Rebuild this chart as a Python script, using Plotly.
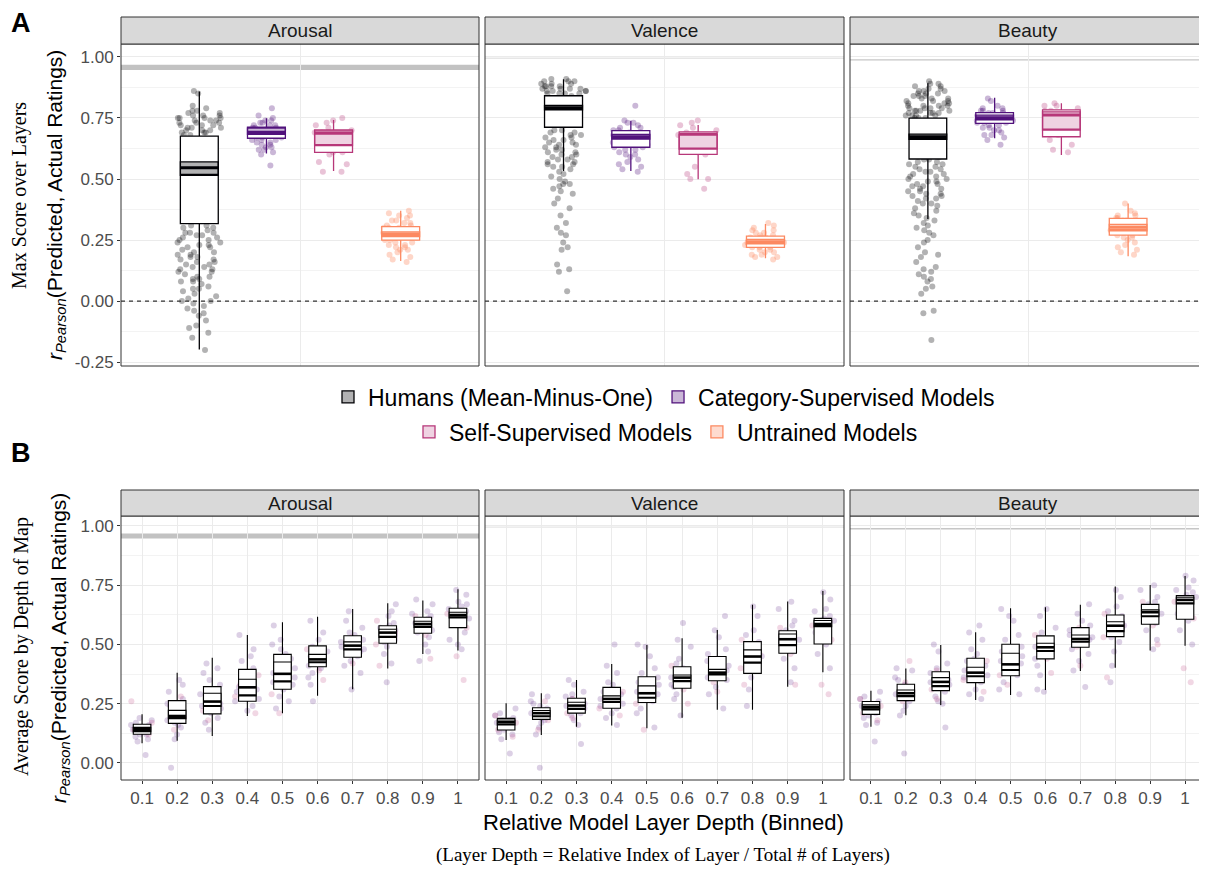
import plotly.graph_objects as go

# ---------------- data ----------------
measures = ["Arousal", "Valence", "Beauty"]
groups = ["Humans (Mean-Minus-One)", "Category-Supervised Models",
          "Self-Supervised Models", "Untrained Models"]
depth_labels = ["0.1", "0.2", "0.3", "0.4", "0.5", "0.6", "0.7", "0.8", "0.9", "1"]
y_ticks_A = [-0.25, 0.0, 0.25, 0.5, 0.75, 1.0]
y_ticks_B = [0.0, 0.25, 0.5, 0.75, 1.0]

# noise-ceiling bands (per measure)
ceiling_lo = [0.947, 0.992, 0.985]
ceiling_hi = [0.968, 0.998, 0.991]

# Panel A box statistics, order = groups
A_arousal_lo = [-0.198, 0.604, 0.533, 0.164]
A_arousal_q1 = [0.317, 0.667, 0.609, 0.250]
A_arousal_med = [0.546, 0.691, 0.687, 0.273]
A_arousal_q3 = [0.676, 0.712, 0.701, 0.305]
A_arousal_hi = [0.858, 0.749, 0.742, 0.370]
A_arousal_band_lo = [0.515, 0.683, 0.637, 0.264]
A_arousal_band_hi = [0.570, 0.708, 0.697, 0.283]

A_valence_lo = [0.533, 0.533, 0.499, 0.175]
A_valence_q1 = [0.712, 0.630, 0.601, 0.220]
A_valence_med = [0.792, 0.673, 0.683, 0.243]
A_valence_q3 = [0.841, 0.698, 0.693, 0.266]
A_valence_hi = [0.909, 0.739, 0.721, 0.316]
A_valence_band_lo = [0.783, 0.663, 0.622, 0.234]
A_valence_band_hi = [0.802, 0.683, 0.683, 0.253]

A_beauty_lo = [0.336, 0.667, 0.598, 0.184]
A_beauty_q1 = [0.582, 0.728, 0.673, 0.270]
A_beauty_med = [0.673, 0.751, 0.762, 0.302]
A_beauty_q3 = [0.749, 0.772, 0.783, 0.339]
A_beauty_hi = [0.892, 0.833, 0.810, 0.400]
A_beauty_band_lo = [0.662, 0.742, 0.700, 0.288]
A_beauty_band_hi = [0.684, 0.762, 0.775, 0.314]

# Panel A individual scores
A_arousal_humans = [0.86, 0.85, 0.80, 0.79, 0.78, 0.78, 0.77, 0.77, 0.76, 0.76, 0.76, 0.75, 0.75, 0.75, 0.75,
                    0.74, 0.74, 0.74, 0.73, 0.73, 0.73, 0.72, 0.72, 0.72, 0.71, 0.71, 0.71, 0.70, 0.70, 0.70,
                    0.69, 0.69, 0.69, 0.68, 0.68, 0.66, 0.64, 0.62, 0.60, 0.58, 0.56, 0.55, 0.54, 0.52, 0.50,
                    0.47, 0.44, 0.41, 0.38, 0.35, 0.33, 0.31, 0.31, 0.30, 0.30, 0.29, 0.28, 0.28, 0.28, 0.27,
                    0.27, 0.26, 0.26, 0.25, 0.25, 0.24, 0.24, 0.23, 0.23, 0.22, 0.22, 0.21, 0.20, 0.20, 0.19,
                    0.19, 0.18, 0.18, 0.17, 0.17, 0.16, 0.16, 0.15, 0.15, 0.14, 0.14, 0.13, 0.13, 0.12, 0.12,
                    0.11, 0.10, 0.10, 0.09, 0.09, 0.08, 0.08, 0.07, 0.06, 0.05, 0.05, 0.04, 0.03, 0.02, 0.01,
                    0.00, 0.00, -0.01, -0.02, -0.03, -0.04, -0.05, -0.06, -0.08, -0.10, -0.11, -0.13, -0.15, -0.20]
A_arousal_category = [0.79, 0.76, 0.75, 0.74, 0.74, 0.73, 0.73, 0.72, 0.72, 0.72, 0.71, 0.71, 0.71, 0.70, 0.70,
                      0.70, 0.69, 0.69, 0.69, 0.69, 0.68, 0.68, 0.68, 0.68, 0.67, 0.67, 0.67, 0.66, 0.66, 0.66,
                      0.65, 0.65, 0.64, 0.64, 0.63, 0.63, 0.62, 0.62, 0.61, 0.60, 0.555]
A_arousal_self = [0.75, 0.74, 0.73, 0.72, 0.71, 0.70, 0.69, 0.69, 0.68, 0.67, 0.66, 0.65, 0.63, 0.62, 0.61,
                  0.61, 0.60, 0.57, 0.56, 0.53, 0.53]
A_arousal_untrained = [0.37, 0.36, 0.35, 0.35, 0.34, 0.33, 0.33, 0.32, 0.32, 0.31, 0.31, 0.30, 0.30, 0.30, 0.29,
                       0.29, 0.29, 0.28, 0.28, 0.28, 0.27, 0.27, 0.27, 0.26, 0.26, 0.26, 0.25, 0.25, 0.24, 0.24,
                       0.23, 0.23, 0.22, 0.22, 0.21, 0.21, 0.20, 0.19, 0.18, 0.17, 0.16]

A_valence_humans = [0.91, 0.91, 0.90, 0.90, 0.90, 0.89, 0.89, 0.89, 0.88, 0.88, 0.88, 0.88, 0.87, 0.87, 0.87,
                    0.87, 0.86, 0.86, 0.86, 0.86, 0.85, 0.85, 0.85, 0.85, 0.84, 0.83, 0.81, 0.80, 0.79, 0.78,
                    0.76, 0.74, 0.72, 0.70, 0.70, 0.69, 0.69, 0.68, 0.68, 0.67, 0.67, 0.66, 0.66, 0.65, 0.65,
                    0.64, 0.64, 0.63, 0.63, 0.62, 0.62, 0.61, 0.61, 0.60, 0.60, 0.59, 0.59, 0.58, 0.58, 0.57,
                    0.57, 0.56, 0.56, 0.55, 0.55, 0.54, 0.53, 0.52, 0.51, 0.50, 0.49, 0.48, 0.48, 0.47, 0.46,
                    0.45, 0.44, 0.42, 0.40, 0.38, 0.35, 0.32, 0.30, 0.28, 0.27, 0.24, 0.22, 0.21, 0.15, 0.13,
                    0.12, 0.04]
A_valence_category = [0.80, 0.74, 0.73, 0.73, 0.72, 0.71, 0.71, 0.70, 0.70, 0.69, 0.69, 0.68, 0.68, 0.68, 0.67,
                      0.67, 0.67, 0.66, 0.66, 0.65, 0.65, 0.64, 0.64, 0.63, 0.63, 0.62, 0.62, 0.61, 0.60, 0.60,
                      0.59, 0.58, 0.57, 0.56, 0.55, 0.54, 0.53]
A_valence_self = [0.74, 0.73, 0.72, 0.71, 0.70, 0.69, 0.68, 0.68, 0.67, 0.66, 0.65, 0.64, 0.62, 0.61, 0.60,
                  0.55, 0.52, 0.50, 0.50, 0.46]
A_valence_untrained = [0.32, 0.31, 0.30, 0.29, 0.29, 0.28, 0.28, 0.27, 0.27, 0.26, 0.26, 0.26, 0.25, 0.25, 0.25,
                       0.24, 0.24, 0.24, 0.24, 0.23, 0.23, 0.23, 0.22, 0.22, 0.22, 0.21, 0.21, 0.20, 0.20, 0.19,
                       0.19, 0.18, 0.18, 0.17]

A_beauty_humans = [0.90, 0.89, 0.89, 0.88, 0.88, 0.87, 0.87, 0.86, 0.86, 0.86, 0.85, 0.85, 0.85, 0.84, 0.84,
                   0.84, 0.83, 0.83, 0.83, 0.82, 0.82, 0.82, 0.81, 0.81, 0.81, 0.80, 0.80, 0.80, 0.80, 0.79,
                   0.79, 0.79, 0.79, 0.78, 0.78, 0.78, 0.78, 0.77, 0.77, 0.77, 0.77, 0.76, 0.76, 0.76, 0.76,
                   0.75, 0.75, 0.75, 0.74, 0.72, 0.70, 0.68, 0.67, 0.66, 0.64, 0.62, 0.60, 0.59, 0.58, 0.58,
                   0.57, 0.57, 0.56, 0.56, 0.55, 0.55, 0.54, 0.54, 0.53, 0.53, 0.52, 0.52, 0.51, 0.51, 0.50,
                   0.50, 0.49, 0.49, 0.48, 0.48, 0.47, 0.47, 0.46, 0.46, 0.45, 0.45, 0.44, 0.44, 0.43, 0.43,
                   0.42, 0.42, 0.41, 0.40, 0.40, 0.39, 0.38, 0.37, 0.36, 0.35, 0.34, 0.33, 0.32, 0.31, 0.30,
                   0.29, 0.28, 0.27, 0.25, 0.24, 0.22, 0.20, 0.19, 0.18, 0.16, 0.14, 0.13, 0.12, 0.11, 0.10,
                   0.09, 0.08, 0.06, 0.05, 0.03, -0.04, -0.05, -0.16]
A_beauty_category = [0.83, 0.82, 0.80, 0.79, 0.79, 0.78, 0.78, 0.78, 0.77, 0.77, 0.77, 0.76, 0.76, 0.76, 0.75,
                     0.75, 0.75, 0.75, 0.74, 0.74, 0.74, 0.73, 0.73, 0.73, 0.72, 0.72, 0.71, 0.71, 0.70, 0.70,
                     0.69, 0.68, 0.68, 0.67, 0.66, 0.64]
A_beauty_self = [0.81, 0.80, 0.80, 0.79, 0.78, 0.78, 0.77, 0.76, 0.75, 0.74, 0.72, 0.71, 0.70, 0.69, 0.68,
                 0.66, 0.64, 0.62, 0.61]
A_beauty_untrained = [0.40, 0.37, 0.36, 0.35, 0.35, 0.34, 0.34, 0.33, 0.33, 0.33, 0.32, 0.32, 0.32, 0.31, 0.31,
                      0.31, 0.30, 0.30, 0.30, 0.29, 0.29, 0.29, 0.28, 0.28, 0.27, 0.27, 0.26, 0.26, 0.25, 0.24,
                      0.23, 0.22, 0.21, 0.20, 0.19]

# Panel B box statistics, order = depth bins
B_arousal_lo = [0.083, 0.094, 0.114, 0.198, 0.210, 0.283, 0.311, 0.399, 0.460, 0.474]
B_arousal_q1 = [0.121, 0.167, 0.207, 0.260, 0.311, 0.406, 0.446, 0.505, 0.547, 0.571]
B_arousal_med = [0.142, 0.198, 0.259, 0.319, 0.376, 0.437, 0.495, 0.550, 0.586, 0.624]
B_arousal_q3 = [0.163, 0.263, 0.322, 0.395, 0.458, 0.494, 0.537, 0.579, 0.615, 0.653]
B_arousal_hi = [0.205, 0.381, 0.444, 0.540, 0.594, 0.617, 0.650, 0.674, 0.685, 0.733]
B_arousal_band_lo = [0.132, 0.187, 0.238, 0.283, 0.342, 0.423, 0.477, 0.530, 0.572, 0.612]
B_arousal_band_hi = [0.150, 0.222, 0.294, 0.353, 0.426, 0.458, 0.511, 0.564, 0.598, 0.636]

B_valence_lo = [0.097, 0.118, 0.153, 0.158, 0.146, 0.191, 0.224, 0.224, 0.322, 0.383]
B_valence_q1 = [0.139, 0.184, 0.210, 0.231, 0.255, 0.315, 0.347, 0.378, 0.463, 0.502]
B_valence_med = [0.172, 0.210, 0.242, 0.270, 0.294, 0.360, 0.381, 0.449, 0.522, 0.586]
B_valence_q3 = [0.188, 0.233, 0.273, 0.319, 0.364, 0.406, 0.449, 0.512, 0.558, 0.610]
B_valence_hi = [0.252, 0.294, 0.350, 0.418, 0.498, 0.526, 0.561, 0.667, 0.681, 0.726]
B_valence_band_lo = [0.160, 0.195, 0.226, 0.255, 0.273, 0.343, 0.371, 0.421, 0.495, 0.575]
B_valence_band_hi = [0.181, 0.221, 0.256, 0.283, 0.325, 0.371, 0.395, 0.477, 0.544, 0.601]

B_beauty_lo = [0.153, 0.201, 0.245, 0.266, 0.287, 0.308, 0.388, 0.402, 0.474, 0.495]
B_beauty_q1 = [0.205, 0.263, 0.305, 0.339, 0.368, 0.439, 0.488, 0.533, 0.585, 0.606]
B_beauty_med = [0.235, 0.294, 0.342, 0.381, 0.416, 0.488, 0.523, 0.579, 0.636, 0.688]
B_beauty_q3 = [0.259, 0.332, 0.385, 0.442, 0.501, 0.536, 0.571, 0.624, 0.669, 0.706]
B_beauty_hi = [0.305, 0.399, 0.498, 0.551, 0.653, 0.657, 0.667, 0.744, 0.751, 0.789]
B_beauty_band_lo = [0.224, 0.280, 0.322, 0.364, 0.390, 0.470, 0.509, 0.554, 0.617, 0.671]
B_beauty_band_hi = [0.245, 0.308, 0.360, 0.404, 0.463, 0.505, 0.540, 0.596, 0.646, 0.699]

# Panel B individual model-layer scores (category-supervised / self-supervised), per depth bin
B_arousal_cat = [
    [0.14, 0.15, 0.13, 0.16, 0.12, 0.17, 0.14, 0.11, 0.18, 0.15, 0.13, 0.10, 0.19, 0.09, 0.16, 0.12, 0.034],
    [0.20, 0.22, 0.18, 0.25, 0.17, 0.30, 0.21, 0.15, 0.27, 0.19, 0.33, 0.12, 0.24, 0.35, 0.16, 0.10, -0.02],
    [0.26, 0.28, 0.23, 0.31, 0.21, 0.35, 0.25, 0.19, 0.38, 0.29, 0.17, 0.40, 0.24, 0.33, 0.14, 0.42],
    [0.32, 0.35, 0.29, 0.40, 0.27, 0.45, 0.31, 0.24, 0.38, 0.43, 0.22, 0.48, 0.34, 0.26, 0.54, 0.30],
    [0.38, 0.42, 0.34, 0.46, 0.31, 0.50, 0.36, 0.28, 0.44, 0.52, 0.26, 0.40, 0.33, 0.58, 0.23, 0.48],
    [0.44, 0.46, 0.42, 0.49, 0.40, 0.52, 0.43, 0.38, 0.47, 0.55, 0.36, 0.45, 0.41, 0.60, 0.33, 0.26],
    [0.50, 0.52, 0.47, 0.54, 0.45, 0.57, 0.49, 0.43, 0.51, 0.60, 0.41, 0.55, 0.48, 0.64, 0.38, 0.31],
    [0.55, 0.57, 0.53, 0.59, 0.51, 0.62, 0.54, 0.49, 0.56, 0.64, 0.46, 0.58, 0.52, 0.67, 0.42, 0.34],
    [0.59, 0.60, 0.57, 0.62, 0.55, 0.64, 0.58, 0.53, 0.61, 0.67, 0.50, 0.63, 0.56, 0.69, 0.47, 0.43],
    [0.62, 0.64, 0.60, 0.66, 0.58, 0.68, 0.61, 0.55, 0.65, 0.71, 0.52, 0.67, 0.59, 0.73, 0.50, 0.48],
]
B_arousal_self = [
    [0.26, 0.14, 0.17, 0.12], [0.23, 0.19, 0.28, 0.14], [0.27, 0.22, 0.30, 0.18], [0.33, 0.28, 0.37, 0.21],
    [0.35, 0.41, 0.29, 0.21], [0.44, 0.39, 0.48, 0.35], [0.49, 0.46, 0.53, 0.42], [0.55, 0.50, 0.60, 0.41],
    [0.59, 0.54, 0.62, 0.44], [0.63, 0.57, 0.45, 0.35],
]
B_valence_cat = [
    [0.17, 0.18, 0.16, 0.19, 0.14, 0.21, 0.17, 0.13, 0.20, 0.15, 0.23, 0.12, 0.18, 0.10, 0.16, 0.04],
    [0.21, 0.22, 0.20, 0.24, 0.18, 0.26, 0.21, 0.17, 0.23, 0.28, 0.15, 0.25, 0.19, 0.29, 0.12, -0.02],
    [0.24, 0.26, 0.23, 0.28, 0.21, 0.30, 0.25, 0.20, 0.27, 0.33, 0.18, 0.29, 0.22, 0.35, 0.16, 0.08],
    [0.27, 0.29, 0.25, 0.31, 0.23, 0.34, 0.27, 0.21, 0.30, 0.38, 0.19, 0.33, 0.24, 0.41, 0.16, 0.50],
    [0.30, 0.33, 0.28, 0.36, 0.26, 0.40, 0.29, 0.23, 0.34, 0.45, 0.21, 0.38, 0.27, 0.49, 0.15, 0.50],
    [0.36, 0.38, 0.34, 0.40, 0.32, 0.44, 0.36, 0.29, 0.39, 0.49, 0.27, 0.42, 0.33, 0.52, 0.20, 0.59],
    [0.38, 0.41, 0.36, 0.44, 0.35, 0.48, 0.39, 0.32, 0.43, 0.53, 0.29, 0.46, 0.37, 0.56, 0.23, 0.62],
    [0.45, 0.48, 0.42, 0.51, 0.39, 0.56, 0.46, 0.36, 0.50, 0.62, 0.31, 0.54, 0.41, 0.66, 0.24, 0.44],
    [0.52, 0.54, 0.50, 0.56, 0.47, 0.60, 0.53, 0.44, 0.55, 0.65, 0.40, 0.58, 0.49, 0.68, 0.34, 0.51],
    [0.59, 0.60, 0.57, 0.62, 0.53, 0.65, 0.59, 0.50, 0.61, 0.69, 0.46, 0.64, 0.55, 0.72, 0.40, 0.56],
]
B_valence_self = [
    [0.17, 0.20, 0.14, 0.11], [0.21, 0.26, 0.18, 0.14], [0.24, 0.21, 0.27, 0.19], [0.27, 0.23, 0.30, 0.20],
    [0.30, 0.25, 0.35, 0.14], [0.36, 0.31, 0.41, 0.25], [0.39, 0.34, 0.44, 0.30], [0.46, 0.40, 0.52, 0.33],
    [0.52, 0.46, 0.57, 0.33], [0.58, 0.33, 0.29, 0.52],
]
B_beauty_cat = [
    [0.23, 0.24, 0.22, 0.26, 0.20, 0.28, 0.24, 0.19, 0.25, 0.30, 0.17, 0.27, 0.21, 0.16, 0.23, 0.09],
    [0.29, 0.31, 0.28, 0.33, 0.26, 0.36, 0.30, 0.24, 0.32, 0.39, 0.22, 0.35, 0.27, 0.40, 0.20, 0.04],
    [0.34, 0.36, 0.32, 0.38, 0.30, 0.42, 0.35, 0.28, 0.37, 0.47, 0.26, 0.40, 0.33, 0.50, 0.25, 0.15],
    [0.38, 0.41, 0.36, 0.44, 0.34, 0.48, 0.39, 0.31, 0.43, 0.52, 0.29, 0.46, 0.37, 0.55, 0.27, 0.58],
    [0.42, 0.45, 0.39, 0.49, 0.37, 0.54, 0.43, 0.34, 0.47, 0.60, 0.31, 0.52, 0.40, 0.65, 0.29, 0.62],
    [0.49, 0.51, 0.46, 0.53, 0.44, 0.57, 0.49, 0.41, 0.52, 0.62, 0.37, 0.55, 0.45, 0.65, 0.31, 0.30],
    [0.52, 0.54, 0.50, 0.56, 0.48, 0.60, 0.53, 0.46, 0.55, 0.63, 0.43, 0.58, 0.51, 0.67, 0.39, 0.32],
    [0.58, 0.60, 0.56, 0.62, 0.53, 0.66, 0.58, 0.51, 0.61, 0.70, 0.47, 0.64, 0.55, 0.73, 0.41, 0.34],
    [0.64, 0.65, 0.62, 0.67, 0.59, 0.70, 0.63, 0.56, 0.66, 0.73, 0.52, 0.68, 0.60, 0.75, 0.48, 0.61],
    [0.69, 0.70, 0.67, 0.72, 0.63, 0.74, 0.68, 0.60, 0.71, 0.77, 0.56, 0.73, 0.65, 0.79, 0.50, 0.62],
]
B_beauty_self = [
    [0.24, 0.27, 0.21, 0.18], [0.30, 0.26, 0.34, 0.43], [0.35, 0.31, 0.39, 0.27], [0.39, 0.35, 0.43, 0.30],
    [0.42, 0.37, 0.48, 0.33], [0.49, 0.44, 0.54, 0.38], [0.52, 0.49, 0.57, 0.41], [0.58, 0.53, 0.63, 0.36],
    [0.63, 0.58, 0.68, 0.50], [0.68, 0.61, 0.40, 0.34],
]

# ---------------- styles ----------------
W, H = 1207, 871
OFF = 8  # the page body margin shifts the figure by this many pixels
FW, FH = W - OFF, H - OFF
SANS = "Liberation Sans, Arial, sans-serif"
SERIF = "Liberation Serif, Times New Roman, serif"
group_colors = ["#000004", "#51127C", "#B73779", "#FC8961"]
band_alpha = [0.30, 0.30, 0.22, 0.30]
point_alpha = [0.30, 0.30, 0.30, 0.35]
ceiling_colors = ["#C2C2C2", "#E6E6E6", "#C6C6C6"]


def rgba(hexc, a):
    h = hexc.lstrip("#")
    return "rgba(%d,%d,%d,%s)" % (int(h[0:2], 16), int(h[2:4], 16), int(h[4:6], 16), a)


def PX(x):
    return (x - OFF) / FW


def PY(y):
    return 1 - (y - OFF) / FH


col_px = [(121, 479), (485, 844), (850, 1206)]
rowA_px = (44, 366)
rowB_px = (516, 780)
stripA_px = (17, 44)
stripB_px = (490, 516)
A_yrange = [-0.266, 1.053]
B_yrange = [-0.072, 1.042]

A_stats = [
    (A_arousal_lo, A_arousal_q1, A_arousal_med, A_arousal_q3, A_arousal_hi, A_arousal_band_lo, A_arousal_band_hi),
    (A_valence_lo, A_valence_q1, A_valence_med, A_valence_q3, A_valence_hi, A_valence_band_lo, A_valence_band_hi),
    (A_beauty_lo, A_beauty_q1, A_beauty_med, A_beauty_q3, A_beauty_hi, A_beauty_band_lo, A_beauty_band_hi),
]
A_points = [
    [A_arousal_humans, A_arousal_category, A_arousal_self, A_arousal_untrained],
    [A_valence_humans, A_valence_category, A_valence_self, A_valence_untrained],
    [A_beauty_humans, A_beauty_category, A_beauty_self, A_beauty_untrained],
]
B_stats = [
    (B_arousal_lo, B_arousal_q1, B_arousal_med, B_arousal_q3, B_arousal_hi, B_arousal_band_lo, B_arousal_band_hi),
    (B_valence_lo, B_valence_q1, B_valence_med, B_valence_q3, B_valence_hi, B_valence_band_lo, B_valence_band_hi),
    (B_beauty_lo, B_beauty_q1, B_beauty_med, B_beauty_q3, B_beauty_hi, B_beauty_band_lo, B_beauty_band_hi),
]
B_cat = [B_arousal_cat, B_valence_cat, B_beauty_cat]
B_self = [B_arousal_self, B_valence_self, B_beauty_self]

fig = go.Figure()


def ax(i):
    return ("x" if i == 1 else "x%d" % i), ("y" if i == 1 else "y%d" % i)


# ---------------- Panel A ----------------
dodge = 0.225
bwA = 0.127
for m in range(3):
    xa, ya = ax(m + 1)
    lo, q1, med, q3, hi, blo, bhi = A_stats[m]
    xs = [1 + (g - 1.5) * dodge for g in range(4)]
    for g in range(4):
        pts = A_points[m][g]
        fig.add_trace(go.Box(
            x=[xs[g]] * len(pts), y=pts, boxpoints="all", jitter=1, pointpos=0,
            width=0.15 if g == 0 else 0.14,
            fillcolor="rgba(0,0,0,0)", line=dict(width=0), whiskerwidth=0,
            marker=dict(color=rgba(group_colors[g], point_alpha[g]), size=6, line=dict(width=0)),
            xaxis=xa, yaxis=ya, showlegend=False, hoverinfo="skip"))
    for g in range(4):
        c = group_colors[g]
        fig.add_trace(go.Box(
            x=[xs[g]], q1=[q1[g]], median=[med[g]], q3=[q3[g]], lowerfence=[lo[g]], upperfence=[hi[g]],
            orientation="v", width=bwA, fillcolor="white", line=dict(color=c, width=1.3), whiskerwidth=0,
            boxpoints=False, xaxis=xa, yaxis=ya, showlegend=False, hoverinfo="skip"))
        fig.add_trace(go.Box(
            x=[xs[g]], q1=[blo[g]], median=[blo[g]], q3=[bhi[g]], lowerfence=[blo[g]], upperfence=[bhi[g]],
            orientation="v", width=bwA, fillcolor=rgba(c, band_alpha[g]), line=dict(color=c, width=1.3),
            whiskerwidth=0, boxpoints=False, xaxis=xa, yaxis=ya, name=groups[g],
            showlegend=(m == 0), legend=("legend" if g < 2 else "legend2"), legendgroup=str(g),
            hoverinfo="skip"))
        fig.add_trace(go.Scatter(
            x=[xs[g] - bwA / 2, xs[g] + bwA / 2], y=[med[g], med[g]], mode="lines",
            line=dict(color=c, width=3), xaxis=xa, yaxis=ya, showlegend=False, hoverinfo="skip"))

# ---------------- Panel B ----------------
bwB = 0.5
pos = list(range(1, len(depth_labels) + 1))
for m in range(3):
    xa, ya = ax(m + 4)
    lo, q1, med, q3, hi, blo, bhi = B_stats[m]
    for data, c in ((B_cat[m], group_colors[1]), (B_self[m], group_colors[2])):
        xx = [pos[i] for i, lst in enumerate(data) for _ in lst]
        yy = [v for lst in data for v in lst]
        fig.add_trace(go.Box(
            x=xx, y=yy, boxpoints="all", jitter=1, pointpos=0, width=0.72,
            fillcolor="rgba(0,0,0,0)", line=dict(width=0), whiskerwidth=0,
            marker=dict(color=rgba(c, 0.2), size=6, line=dict(width=0)),
            xaxis=xa, yaxis=ya, showlegend=False, hoverinfo="skip"))
    fig.add_trace(go.Box(
        x=pos, q1=q1, median=med, q3=q3, lowerfence=lo, upperfence=hi, orientation="v", width=bwB,
        fillcolor="white", line=dict(color="#000000", width=1.1), whiskerwidth=0, boxpoints=False,
        xaxis=xa, yaxis=ya, showlegend=False, hoverinfo="skip"))
    fig.add_trace(go.Box(
        x=pos, q1=blo, median=blo, q3=bhi, lowerfence=blo, upperfence=bhi, orientation="v", width=bwB,
        fillcolor="white", line=dict(color="#000000", width=1.1), whiskerwidth=0, boxpoints=False,
        xaxis=xa, yaxis=ya, showlegend=False, hoverinfo="skip"))
    mx, my = [], []
    for i, p in enumerate(pos):
        mx += [p - bwB / 2, p + bwB / 2, None]
        my += [med[i], med[i], None]
    fig.add_trace(go.Scatter(x=mx, y=my, mode="lines", line=dict(color="#000000", width=2.6),
                             xaxis=xa, yaxis=ya, showlegend=False, hoverinfo="skip"))

# ---------------- axes ----------------
layout = dict(width=FW, height=FH, margin=dict(l=0, r=0, t=0, b=0, autoexpand=False), paper_bgcolor="white",
              plot_bgcolor="white", font=dict(family=SANS, color="#000000"), showlegend=True)
tickfont = dict(family=SANS, size=17, color="#4D4D4D")
for i in range(1, 7):
    col = (i - 1) % 3
    rowA = i <= 3
    xk = "xaxis" if i == 1 else "xaxis%d" % i
    yk = "yaxis" if i == 1 else "yaxis%d" % i
    x0, x1 = col_px[col]
    yt, yb = rowA_px if rowA else rowB_px
    xd = dict(domain=[PX(x0), PX(x1)], anchor=ax(i)[1], automargin=False, zeroline=False,
              showline=False, showgrid=True, gridcolor="#EBEBEB", gridwidth=1, tickfont=tickfont)
    yd = dict(domain=[PY(yb), PY(yt)], anchor=ax(i)[0], automargin=False, zeroline=False,
              showline=False, showgrid=True, gridcolor="#EBEBEB", gridwidth=1, tickfont=tickfont)
    if rowA:
        xd.update(range=[0.4, 1.6], tickvals=[1], showticklabels=False, ticks="")
        yd.update(range=A_yrange, tickvals=y_ticks_A, ticktext=["%.2f" % v for v in y_ticks_A],
                  minor=dict(tickvals=[-0.125, 0.125, 0.375, 0.625, 0.875], showgrid=True,
                             gridcolor="#F3F3F3", gridwidth=0.6, ticks=""))
    else:
        xd.update(range=[0.4, 10.6], tickvals=pos, ticktext=depth_labels, ticks="outside", ticklen=3,
                  tickcolor="#333333", tickwidth=1)
        yd.update(range=B_yrange, tickvals=y_ticks_B, ticktext=["%.2f" % v for v in y_ticks_B],
                  minor=dict(tickvals=[0.125, 0.375, 0.625, 0.875], showgrid=True,
                             gridcolor="#F3F3F3", gridwidth=0.6, ticks=""))
    if col == 0:
        yd.update(ticks="outside", ticklen=3, tickcolor="#333333", tickwidth=1, showticklabels=True)
    else:
        yd.update(ticks="", showticklabels=False)
    layout[xk] = xd
    layout[yk] = yd

layout["legend"] = dict(orientation="h", x=PX(664), xanchor="center", y=PY(397), yanchor="middle",
                        font=dict(family=SANS, size=23, color="#000000"), bgcolor="rgba(0,0,0,0)",
                        itemwidth=30, tracegroupgap=0)
layout["legend2"] = dict(orientation="h", x=PX(666), xanchor="center", y=PY(432), yanchor="middle",
                         font=dict(family=SANS, size=23, color="#000000"), bgcolor="rgba(0,0,0,0)",
                         itemwidth=30, tracegroupgap=0)
fig.update_layout(**layout)

# ---------------- shapes ----------------
shapes = []
for i in range(1, 7):
    col = (i - 1) % 3
    rowA = i <= 3
    xa, ya = ax(i)
    xr = [0.4, 1.6] if rowA else [0.4, 10.6]
    shapes.append(dict(type="rect", xref=xa, yref=ya, x0=xr[0], x1=xr[1],
                       y0=ceiling_lo[col], y1=ceiling_hi[col], fillcolor=ceiling_colors[col],
                       line=dict(width=0), layer="below"))
    if rowA:
        shapes.append(dict(type="line", xref=xa, yref=ya, x0=xr[0], x1=xr[1], y0=0, y1=0,
                           line=dict(color="#333333", width=1.2, dash="4px,4px"), layer="above"))
    x0, x1 = col_px[col]
    yt, yb = rowA_px if rowA else rowB_px
    st, sb = stripA_px if rowA else stripB_px
    shapes.append(dict(type="rect", xref="paper", yref="paper", x0=PX(x0), x1=PX(x1), y0=PY(yb), y1=PY(yt),
                       line=dict(color="#333333", width=1), fillcolor="rgba(0,0,0,0)", layer="above"))
    shapes.append(dict(type="rect", xref="paper", yref="paper", x0=PX(x0), x1=PX(x1), y0=PY(sb), y1=PY(st),
                       line=dict(color="#333333", width=1), fillcolor="#D9D9D9", layer="above"))
fig.update_layout(shapes=shapes)

# ---------------- annotations ----------------
ann = []
for i in range(1, 7):
    col = (i - 1) % 3
    st, sb = stripA_px if i <= 3 else stripB_px
    x0, x1 = col_px[col]
    ann.append(dict(text=measures[col], x=PX((x0 + x1) / 2),
                    y=PY((st + sb) / 2), xanchor="center", yanchor="middle",
                    font=dict(family=SANS, size=19, color="#1A1A1A")))
ann += [
    dict(text="<b>A</b>", x=PX(9), y=PY(23), xanchor="left", yanchor="middle",
         font=dict(family=SANS, size=27, color="#000000")),
    dict(text="<b>B</b>", x=PX(9), y=PY(453), xanchor="left", yanchor="middle",
         font=dict(family=SANS, size=27, color="#000000")),
    dict(text="Max Score over Layers", x=PX(20), y=PY(196), textangle=-90, xanchor="center",
         yanchor="middle", font=dict(family=SERIF, size=20, color="#000000")),
    dict(text="<i>r<sub>Pearson</sub></i>(Predicted, Actual Ratings)", x=PX(56), y=PY(205), textangle=-90,
         xanchor="center", yanchor="middle", font=dict(family=SANS, size=21, color="#000000")),
    dict(text="Average Score by Depth of Map", x=PX(21), y=PY(647), textangle=-90, xanchor="center",
         yanchor="middle", font=dict(family=SERIF, size=20, color="#000000")),
    dict(text="<i>r<sub>Pearson</sub></i>(Predicted, Actual Ratings)", x=PX(60), y=PY(648), textangle=-90,
         xanchor="center", yanchor="middle", font=dict(family=SANS, size=21, color="#000000")),
    dict(text="Relative Model Layer Depth (Binned)", x=PX(663), y=PY(822), xanchor="center",
         yanchor="middle", font=dict(family=SANS, size=22, color="#000000")),
    dict(text="(Layer Depth = Relative Index of Layer / Total # of Layers)", x=PX(663), y=PY(855),
         xanchor="center", yanchor="middle", font=dict(family=SERIF, size=19, color="#000000")),
]
for a in ann:
    a["xref"] = "paper"
    a["yref"] = "paper"
    a["showarrow"] = False
fig.update_layout(annotations=ann)

fig.write_html("out.html")
